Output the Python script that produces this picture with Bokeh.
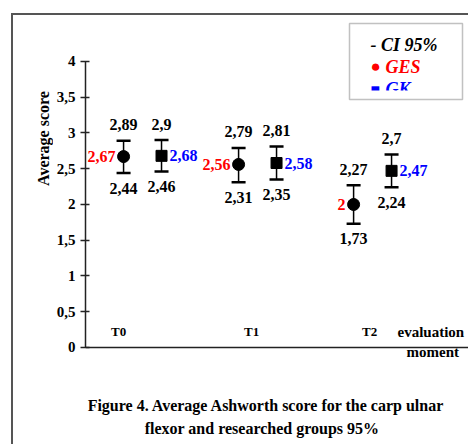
import math
from bokeh.plotting import figure
from bokeh.layouts import row
from bokeh.models import Range1d, FixedTicker, Label, BoxAnnotation, Whisker, ColumnDataSource, TeeHead, Span
from bokeh.core.properties import value
from bokeh.embed import file_html
from bokeh.resources import INLINE

# ---- data ----
cats = ["T0", "T1", "T2"]
ges_mean = [2.67, 2.56, 2.00]
ges_upper = [2.89, 2.79, 2.27]
ges_lower = [2.44, 2.31, 1.73]
gk_mean = [2.68, 2.58, 2.47]
gk_upper = [2.90, 2.81, 2.70]
gk_lower = [2.46, 2.35, 2.24]
yticks = [0, 0.5, 1, 1.5, 2, 2.5, 3, 3.5, 4]
ytick_labels = ["0", "0,5", "1", "1,5", "2", "2,5", "3", "3,5", "4"]
y_title = "Average score"
x_title = ["evaluation", "moment"]
title_lines = ["Figure 4. Average Ashworth score for the carp ulnar",
               "flexor and researched groups 95%"]
legend_items = ["- CI 95%", "GES", "GK"]

FONT = "Liberation Serif"
RED = "#ff0000"
BLUE = "#0000ff"

def fmt(v):
    return f"{v:g}".replace(".", ",")

off = 0.165
idx = list(range(len(cats)))
cat_label_dx = [-24, -6, -3]
src_ges = ColumnDataSource(dict(
    x=[i - off for i in idx], m=ges_mean, u=ges_upper, l=ges_lower,
    mt=[fmt(v) for v in ges_mean], ut=[fmt(v) for v in ges_upper], lt=[fmt(v) for v in ges_lower]))
src_gk = ColumnDataSource(dict(
    x=[i + off for i in idx], m=gk_mean, u=gk_upper, l=gk_lower,
    mt=[fmt(v) for v in gk_mean], ut=[fmt(v) for v in gk_upper], lt=[fmt(v) for v in gk_lower]))
src_cat = ColumnDataSource(dict(x=idx, y=[0] * len(cats), t=cats, dx=cat_label_dx))

# ---- left strip holding the y title ----
pl = figure(width=40, height=429, x_range=Range1d(0, 1), y_range=Range1d(0, 1),
            x_axis_location=None, y_axis_location=None, min_border=0,
            output_backend="svg", toolbar_location=None)
pl.grid.visible = False
pl.outline_line_color = None
pl.add_layout(Label(x=30, y=123, x_units="canvas", y_units="canvas", text=y_title, angle=math.pi / 2,
                    text_align="center", text_baseline="middle", text_font=FONT,
                    text_font_size="16px", text_font_style="bold", text_color="black"))

# ---- main chart ----
p = figure(width=415, height=429, x_range=Range1d(-0.496, 2.834), y_range=Range1d(-1.357, 4.643),
           x_axis_location=None, output_backend="svg", toolbar_location=None,
           min_border_left=32, min_border_right=0, min_border_top=0, min_border_bottom=0)
p.grid.visible = False
p.outline_line_color = None

ya = p.yaxis[0]
ya.bounds = (0, 4)
ya.ticker = FixedTicker(ticks=yticks)
ya.major_label_overrides = {t: s for t, s in zip(yticks, ytick_labels)}
ya.major_tick_out = 5
ya.major_tick_in = 4
ya.minor_tick_line_color = None
ya.axis_line_width = 1.5
ya.axis_line_color = "#222222"
ya.major_tick_line_width = 1.5
ya.major_tick_line_color = "#222222"
ya.major_label_text_font = FONT
ya.major_label_text_font_style = "bold"
ya.major_label_text_font_size = "15px"
ya.major_label_text_color = "black"
ya.major_label_standoff = 5

p.add_layout(Span(location=0, dimension="width", line_color="#222222", line_width=1.5))

for src in (src_ges, src_gk):
    p.add_layout(Whisker(base="x", upper="u", lower="l", source=src, line_width=1.5, line_color="black",
                         upper_head=TeeHead(size=14, line_width=2.5, line_color="black"),
                         lower_head=TeeHead(size=14, line_width=2.5, line_color="black")))

p.scatter("x", "m", source=src_ges, marker="circle", size=12, color="black")
p.scatter("x", "m", source=src_gk, marker="square", size=11, color="black")

lab = dict(text_font=value(FONT), text_font_style="bold", text_font_size="16px", text_baseline="middle")
p.text("x", "m", text="mt", source=src_ges, text_align="right", x_offset=-8, text_color=RED, **lab)
p.text("x", "m", text="mt", source=src_gk, text_align="left", x_offset=8, text_color=BLUE, **lab)
for src in (src_ges, src_gk):
    p.text("x", "u", text="ut", source=src, text_align="center", y_offset=-16, text_color="black", **lab)
    p.text("x", "l", text="lt", source=src, text_align="center", y_offset=15, text_color="black", **lab)

p.text("x", "y", text="t", source=src_cat, text_align="center", x_offset="dx", y_offset=-16,
       text_color="black", text_font=value(FONT), text_font_style="bold", text_font_size="13px",
       text_baseline="middle")

def clabel(x, y, text, size="16px", color="black", style="bold", align="center"):
    p.add_layout(Label(x=x, y=y, x_units="canvas", y_units="canvas", text=text, text_align=align,
                       text_baseline="middle", text_font=FONT, text_font_size=size,
                       text_font_style=style, text_color=color))

clabel(344, 316, x_title[0], size="15px", align="left")
clabel(353, 336, x_title[1], size="15px", align="left")
clabel(213, 390, title_lines[0])
clabel(208.5, 413, title_lines[1])

# legend
clabel(317, 29.5, legend_items[0], size="18px", style="bold italic", align="left")
clabel(317, 51, "\u25cf", size="17px", color=RED, align="left")
clabel(332, 51, legend_items[1], size="18px", style="bold italic", color=RED, align="left")
clabel(317, 74, "\u25a0", size="16px", color=BLUE, align="left")
clabel(332, 73, legend_items[2], size="18px", style="bold italic", color=BLUE, align="left")
p.add_layout(BoxAnnotation(left=298, right=407, top=75, bottom=83, left_units="canvas", right_units="canvas",
                           top_units="canvas", bottom_units="canvas", fill_color="white", fill_alpha=1,
                           line_color=None))
p.add_layout(BoxAnnotation(left=296, right=409, top=8, bottom=84, left_units="canvas", right_units="canvas",
                           top_units="canvas", bottom_units="canvas", fill_alpha=0,
                           line_color="#333333", line_width=1.5))

layout = row(pl, p, margin=(13, 0, 0, 11),
             styles={"border-left": "2px solid #555555", "border-top": "2px solid #555555"})

open("out.html", "w").write(file_html(layout, INLINE))
